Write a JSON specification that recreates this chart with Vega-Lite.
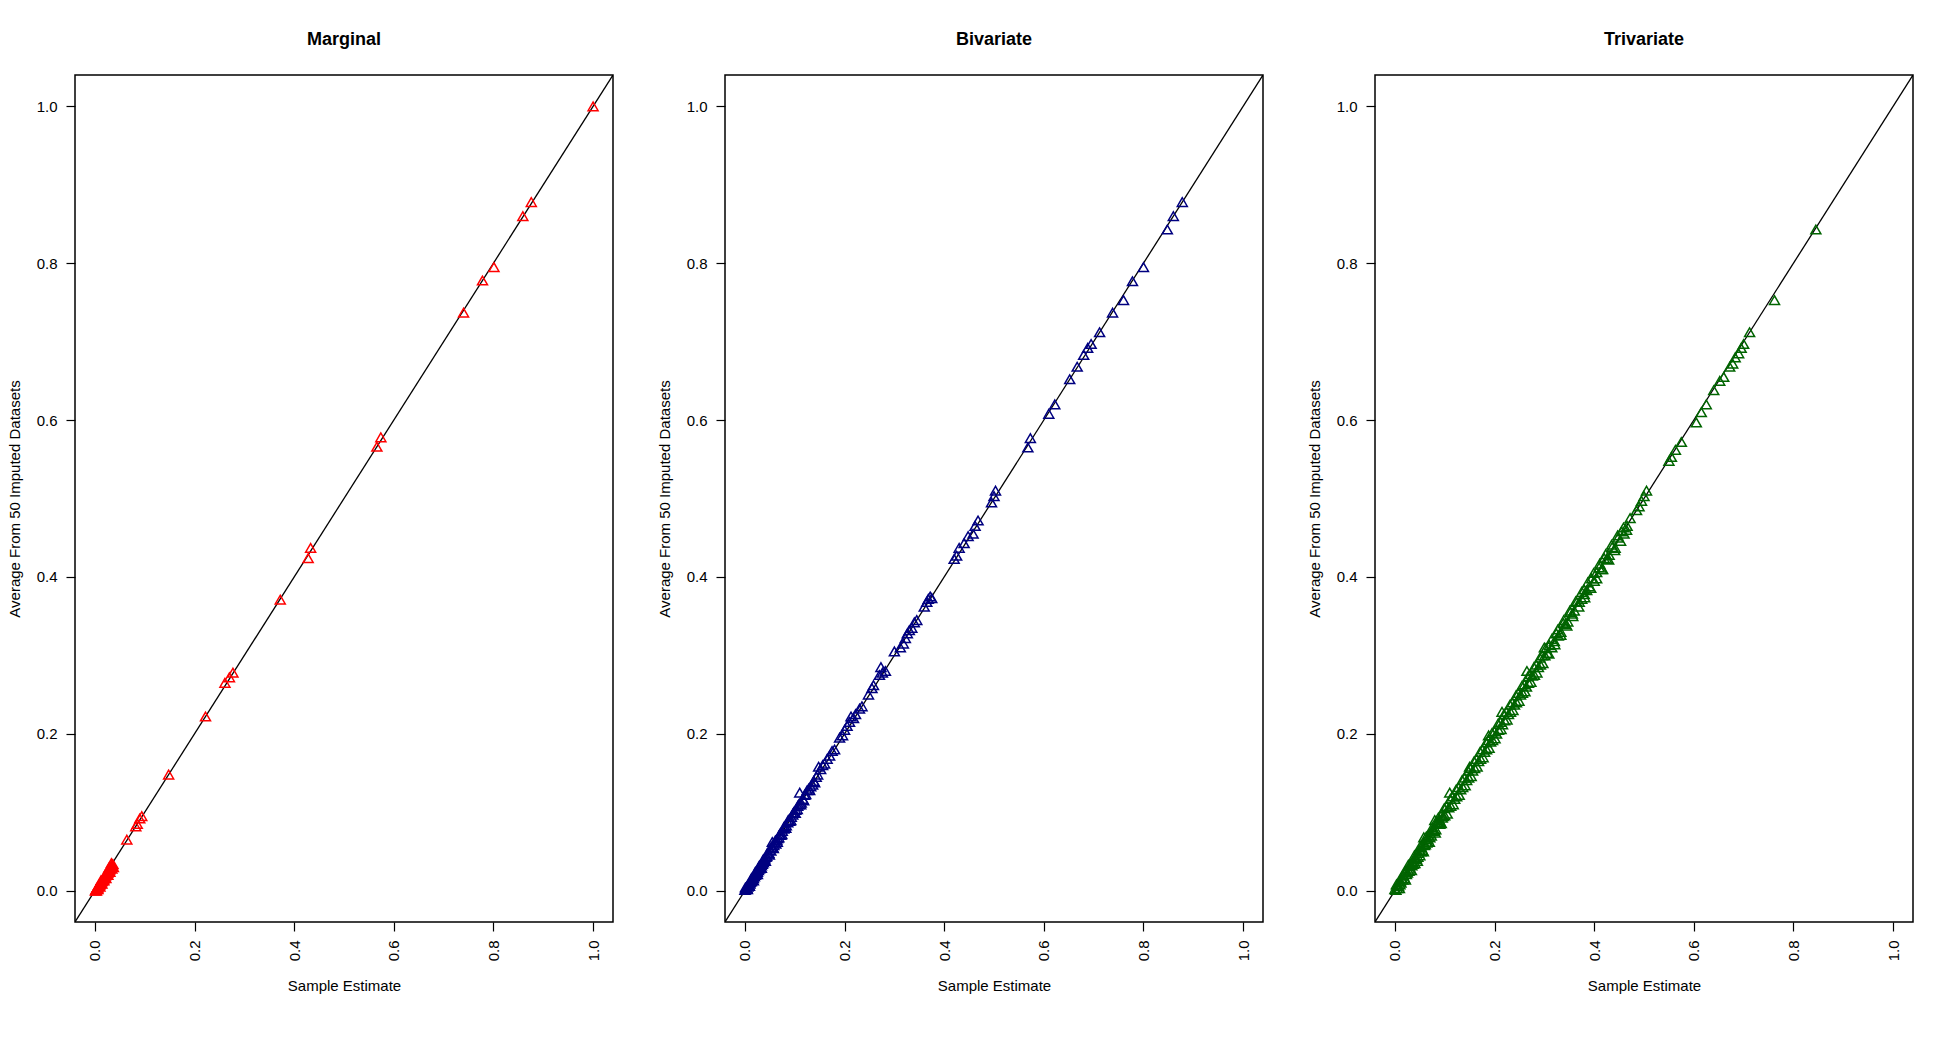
{
  "$schema": "https://vega.github.io/schema/vega-lite/v6.json",
  "background": "white",
  "padding": {"left": 6, "top": 30, "right": 5, "bottom": 5},
  "bounds": "flush",
  "spacing": 112,
  "config": {
    "font": "Liberation Sans",
    "view": {"stroke": "black", "strokeWidth": 1.5},
    "axis": {
      "grid": false,
      "domain": false,
      "tickColor": "black",
      "tickWidth": 1.2,
      "tickSize": 9,
      "labelPadding": 9,
      "labelFont": "Liberation Sans",
      "labelFontSize": 15,
      "labelColor": "black",
      "titleFont": "Liberation Sans",
      "titleFontSize": 15,
      "titleFontWeight": "normal",
      "titleColor": "black"
    },
    "axisX": {"labelAngle": -90, "titlePadding": 18},
    "axisY": {"titlePadding": 14},
    "title": {"font": "Liberation Sans", "fontSize": 18, "fontWeight": "bold", "color": "black", "offset": 26}
  },
  "datasets": {
    "diag": [{"x": -0.04, "y": -0.04}, {"x": 1.04, "y": 1.04}],
    "marginal": [
      {"x":1.000,"y":1.000},{"x":0.876,"y":0.878},{"x":0.859,"y":0.860},{"x":0.801,"y":0.795},{"x":0.778,"y":0.778},
      {"x":0.740,"y":0.737},{"x":0.574,"y":0.578},{"x":0.566,"y":0.566},{"x":0.433,"y":0.437},{"x":0.428,"y":0.424},
      {"x":0.372,"y":0.371},{"x":0.277,"y":0.278},{"x":0.270,"y":0.272},{"x":0.261,"y":0.265},{"x":0.222,"y":0.222},
      {"x":0.148,"y":0.148},{"x":0.094,"y":0.095},{"x":0.090,"y":0.092},{"x":0.085,"y":0.085},{"x":0.082,"y":0.082},
      {"x":0.064,"y":0.065},
      {"x":0.001,"y":0.000},{"x":0.002,"y":0.001},{"x":0.003,"y":0.002},{"x":0.004,"y":0.003},{"x":0.005,"y":0.004},
      {"x":0.006,"y":0.004},{"x":0.007,"y":0.006},{"x":0.008,"y":0.006},{"x":0.009,"y":0.008},{"x":0.010,"y":0.008},
      {"x":0.011,"y":0.009},{"x":0.012,"y":0.010},{"x":0.013,"y":0.012},{"x":0.014,"y":0.012},{"x":0.015,"y":0.013},
      {"x":0.016,"y":0.014},{"x":0.017,"y":0.015},{"x":0.018,"y":0.016},{"x":0.019,"y":0.018},{"x":0.020,"y":0.017},
      {"x":0.021,"y":0.019},{"x":0.022,"y":0.020},{"x":0.023,"y":0.021},{"x":0.024,"y":0.022},{"x":0.025,"y":0.024},
      {"x":0.026,"y":0.023},{"x":0.027,"y":0.025},{"x":0.028,"y":0.026},{"x":0.029,"y":0.028},{"x":0.030,"y":0.027},
      {"x":0.031,"y":0.029},{"x":0.032,"y":0.030},{"x":0.033,"y":0.032},{"x":0.034,"y":0.031},{"x":0.035,"y":0.033},
      {"x":0.036,"y":0.034},{"x":0.034,"y":0.028},{"x":0.030,"y":0.024},{"x":0.026,"y":0.020},{"x":0.022,"y":0.016},
      {"x":0.018,"y":0.013},{"x":0.014,"y":0.009},{"x":0.010,"y":0.005},{"x":0.006,"y":0.002},{"x":0.003,"y":0.000},
      {"x":0.020,"y":0.020},{"x":0.028,"y":0.029},{"x":0.033,"y":0.035},{"x":0.012,"y":0.013},{"x":0.037,"y":0.030}
    ],
    "bivariate": [
      {"x":0.000,"y":0.001},{"x":0.002,"y":0.002},{"x":0.003,"y":0.004},{"x":0.004,"y":0.003},{"x":0.005,"y":0.006},
      {"x":0.006,"y":0.005},{"x":0.007,"y":0.008},{"x":0.008,"y":0.007},{"x":0.009,"y":0.010},{"x":0.010,"y":0.009},
      {"x":0.011,"y":0.011},{"x":0.012,"y":0.013},{"x":0.013,"y":0.012},{"x":0.014,"y":0.015},{"x":0.015,"y":0.014},
      {"x":0.016,"y":0.017},{"x":0.017,"y":0.016},{"x":0.018,"y":0.019},{"x":0.019,"y":0.018},{"x":0.020,"y":0.021},
      {"x":0.021,"y":0.020},{"x":0.022,"y":0.023},{"x":0.023,"y":0.022},{"x":0.024,"y":0.025},{"x":0.025,"y":0.024},
      {"x":0.026,"y":0.027},{"x":0.027,"y":0.026},{"x":0.028,"y":0.029},{"x":0.029,"y":0.028},{"x":0.030,"y":0.031},
      {"x":0.031,"y":0.030},{"x":0.032,"y":0.033},{"x":0.033,"y":0.032},{"x":0.034,"y":0.035},{"x":0.035,"y":0.034},
      {"x":0.036,"y":0.037},{"x":0.037,"y":0.036},{"x":0.038,"y":0.039},{"x":0.039,"y":0.038},{"x":0.040,"y":0.041},
      {"x":0.042,"y":0.043},{"x":0.044,"y":0.044},{"x":0.046,"y":0.047},{"x":0.048,"y":0.048},{"x":0.050,"y":0.052},
      {"x":0.052,"y":0.051},{"x":0.055,"y":0.062},{"x":0.056,"y":0.055},{"x":0.058,"y":0.058},{"x":0.060,"y":0.061},
      {"x":0.062,"y":0.060},{"x":0.064,"y":0.065},{"x":0.066,"y":0.067},{"x":0.068,"y":0.068},{"x":0.070,"y":0.072},
      {"x":0.072,"y":0.071},{"x":0.075,"y":0.076},{"x":0.078,"y":0.079},{"x":0.080,"y":0.082},{"x":0.083,"y":0.083},
      {"x":0.086,"y":0.087},{"x":0.088,"y":0.090},{"x":0.090,"y":0.089},{"x":0.093,"y":0.094},{"x":0.096,"y":0.097},
      {"x":0.098,"y":0.100},{"x":0.102,"y":0.103},{"x":0.105,"y":0.104},{"x":0.108,"y":0.110},{"x":0.110,"y":0.125},
      {"x":0.113,"y":0.112},{"x":0.116,"y":0.117},{"x":0.118,"y":0.115},{"x":0.122,"y":0.123},{"x":0.125,"y":0.128},
      {"x":0.128,"y":0.130},{"x":0.132,"y":0.133},{"x":0.136,"y":0.135},{"x":0.140,"y":0.138},{"x":0.143,"y":0.145},
      {"x":0.146,"y":0.148},{"x":0.148,"y":0.158},{"x":0.152,"y":0.155},{"x":0.156,"y":0.160},{"x":0.160,"y":0.162},
      {"x":0.165,"y":0.168},{"x":0.170,"y":0.172},{"x":0.175,"y":0.178},{"x":0.180,"y":0.180},{"x":0.190,"y":0.195},
      {"x":0.196,"y":0.198},{"x":0.200,"y":0.205},{"x":0.205,"y":0.210},{"x":0.210,"y":0.215},{"x":0.213,"y":0.222},
      {"x":0.218,"y":0.220},{"x":0.222,"y":0.225},{"x":0.230,"y":0.232},{"x":0.235,"y":0.235},{"x":0.248,"y":0.250},
      {"x":0.255,"y":0.258},{"x":0.258,"y":0.262},{"x":0.270,"y":0.275},{"x":0.273,"y":0.285},{"x":0.276,"y":0.278},
      {"x":0.282,"y":0.280},{"x":0.300,"y":0.305},{"x":0.312,"y":0.310},{"x":0.318,"y":0.315},{"x":0.322,"y":0.322},
      {"x":0.326,"y":0.328},{"x":0.330,"y":0.332},{"x":0.335,"y":0.335},{"x":0.340,"y":0.342},{"x":0.345,"y":0.345},
      {"x":0.360,"y":0.362},{"x":0.365,"y":0.368},{"x":0.368,"y":0.372},{"x":0.372,"y":0.375},{"x":0.375,"y":0.373},
      {"x":0.420,"y":0.423},{"x":0.425,"y":0.427},{"x":0.430,"y":0.437},{"x":0.440,"y":0.443},{"x":0.448,"y":0.452},
      {"x":0.458,"y":0.455},{"x":0.462,"y":0.465},{"x":0.468,"y":0.472},{"x":0.495,"y":0.495},{"x":0.500,"y":0.503},
      {"x":0.503,"y":0.510},{"x":0.568,"y":0.565},{"x":0.573,"y":0.577},{"x":0.610,"y":0.608},{"x":0.622,"y":0.620},
      {"x":0.652,"y":0.652},{"x":0.667,"y":0.668},{"x":0.680,"y":0.683},{"x":0.688,"y":0.692},{"x":0.695,"y":0.697},
      {"x":0.712,"y":0.712},{"x":0.738,"y":0.737},{"x":0.760,"y":0.753},{"x":0.778,"y":0.777},{"x":0.800,"y":0.795},
      {"x":0.848,"y":0.843},{"x":0.860,"y":0.860},{"x":0.878,"y":0.878},
      {"x":0.001,"y":0.004},{"x":0.005,"y":0.002},{"x":0.009,"y":0.006},{"x":0.013,"y":0.016},{"x":0.017,"y":0.013},
      {"x":0.021,"y":0.024},{"x":0.025,"y":0.021},{"x":0.029,"y":0.032},{"x":0.033,"y":0.029},{"x":0.037,"y":0.040},
      {"x":0.041,"y":0.038},{"x":0.045,"y":0.048},{"x":0.049,"y":0.046},{"x":0.053,"y":0.056},{"x":0.057,"y":0.054},
      {"x":0.061,"y":0.064},{"x":0.065,"y":0.062},{"x":0.069,"y":0.071},{"x":0.074,"y":0.072},{"x":0.078,"y":0.081},
      {"x":0.082,"y":0.080},{"x":0.087,"y":0.090},{"x":0.092,"y":0.090},{"x":0.097,"y":0.099},{"x":0.101,"y":0.099},
      {"x":0.106,"y":0.108},{"x":0.112,"y":0.110},{"x":0.120,"y":0.122},{"x":0.130,"y":0.128},{"x":0.138,"y":0.140}
    ],
    "trivariate": [
      {"x":0.845,"y":0.843},{"x":0.762,"y":0.753},{"x":0.712,"y":0.712},{"x":0.700,"y":0.697},{"x":0.695,"y":0.692},
      {"x":0.690,"y":0.685},{"x":0.683,"y":0.680},{"x":0.678,"y":0.672},{"x":0.672,"y":0.668},{"x":0.660,"y":0.655},
      {"x":0.652,"y":0.650},{"x":0.640,"y":0.638},{"x":0.625,"y":0.620},{"x":0.615,"y":0.610},{"x":0.605,"y":0.597},
      {"x":0.575,"y":0.572},{"x":0.563,"y":0.562},{"x":0.555,"y":0.553},{"x":0.550,"y":0.548},{"x":0.505,"y":0.510},
      {"x":0.500,"y":0.503},{"x":0.495,"y":0.497},{"x":0.490,"y":0.490},{"x":0.485,"y":0.485},
      {"x":0.472,"y":0.475},{"x":0.466,"y":0.465},{"x":0.460,"y":0.455},{"x":0.455,"y":0.458},{"x":0.448,"y":0.450},
      {"x":0.442,"y":0.437},{"x":0.436,"y":0.438},{"x":0.430,"y":0.428},{"x":0.425,"y":0.423},{"x":0.420,"y":0.424},
      {"x":0.415,"y":0.410},{"x":0.410,"y":0.412},{"x":0.405,"y":0.406},{"x":0.400,"y":0.395},{"x":0.395,"y":0.398},
      {"x":0.390,"y":0.388},{"x":0.385,"y":0.383},{"x":0.380,"y":0.384},{"x":0.375,"y":0.372},{"x":0.370,"y":0.368},
      {"x":0.365,"y":0.368},{"x":0.360,"y":0.357},{"x":0.356,"y":0.353},{"x":0.352,"y":0.355},{"x":0.347,"y":0.343},
      {"x":0.342,"y":0.340},{"x":0.338,"y":0.341},{"x":0.333,"y":0.330},{"x":0.328,"y":0.325},{"x":0.324,"y":0.328},
      {"x":0.320,"y":0.318},{"x":0.315,"y":0.310},{"x":0.310,"y":0.313},{"x":0.306,"y":0.303},{"x":0.301,"y":0.300},
      {"x":0.296,"y":0.300},{"x":0.292,"y":0.288},{"x":0.288,"y":0.285},{"x":0.284,"y":0.288},{"x":0.280,"y":0.275},
      {"x":0.276,"y":0.274},{"x":0.272,"y":0.276},{"x":0.268,"y":0.265},{"x":0.264,"y":0.260},{"x":0.260,"y":0.263},
      {"x":0.256,"y":0.252},{"x":0.252,"y":0.250},{"x":0.248,"y":0.252},{"x":0.244,"y":0.240},{"x":0.240,"y":0.237},
      {"x":0.236,"y":0.240},{"x":0.232,"y":0.228},{"x":0.228,"y":0.225},{"x":0.224,"y":0.228},{"x":0.220,"y":0.217},
      {"x":0.216,"y":0.212},{"x":0.212,"y":0.215},{"x":0.208,"y":0.205},{"x":0.204,"y":0.200},{"x":0.200,"y":0.203},
      {"x":0.196,"y":0.192},{"x":0.192,"y":0.190},{"x":0.188,"y":0.192},{"x":0.184,"y":0.180},{"x":0.180,"y":0.177},
      {"x":0.176,"y":0.180},{"x":0.172,"y":0.168},{"x":0.168,"y":0.165},{"x":0.164,"y":0.168},{"x":0.160,"y":0.156},
      {"x":0.156,"y":0.153},{"x":0.152,"y":0.156},{"x":0.148,"y":0.144},{"x":0.144,"y":0.141},{"x":0.140,"y":0.144},
      {"x":0.136,"y":0.132},{"x":0.132,"y":0.129},{"x":0.128,"y":0.132},{"x":0.124,"y":0.120},{"x":0.120,"y":0.117},
      {"x":0.116,"y":0.120},{"x":0.112,"y":0.108},{"x":0.108,"y":0.106},{"x":0.104,"y":0.108},{"x":0.100,"y":0.096},
      {"x":0.097,"y":0.095},{"x":0.094,"y":0.097},{"x":0.091,"y":0.087},{"x":0.088,"y":0.086},{"x":0.085,"y":0.088},
      {"x":0.082,"y":0.078},{"x":0.079,"y":0.077},{"x":0.076,"y":0.079},{"x":0.073,"y":0.070},{"x":0.070,"y":0.068},
      {"x":0.067,"y":0.070},{"x":0.064,"y":0.061},{"x":0.061,"y":0.059},{"x":0.058,"y":0.061},{"x":0.055,"y":0.052},
      {"x":0.052,"y":0.050},{"x":0.049,"y":0.052},{"x":0.046,"y":0.043},{"x":0.043,"y":0.041},{"x":0.040,"y":0.043},
      {"x":0.037,"y":0.034},{"x":0.034,"y":0.032},{"x":0.031,"y":0.034},{"x":0.028,"y":0.025},{"x":0.025,"y":0.023},
      {"x":0.022,"y":0.025},{"x":0.019,"y":0.016},{"x":0.016,"y":0.014},{"x":0.013,"y":0.016},{"x":0.010,"y":0.008},
      {"x":0.007,"y":0.006},{"x":0.004,"y":0.006},{"x":0.002,"y":0.001},{"x":0.000,"y":0.002},
      {"x":0.215,"y":0.228},{"x":0.110,"y":0.125},{"x":0.058,"y":0.068},{"x":0.300,"y":0.310},{"x":0.188,"y":0.198},
      {"x":0.150,"y":0.158},{"x":0.380,"y":0.378},{"x":0.265,"y":0.280},{"x":0.040,"y":0.035},{"x":0.080,"y":0.090},
      {"x":0.020,"y":0.024},{"x":0.050,"y":0.045},{"x":0.030,"y":0.028},{"x":0.012,"y":0.010},{"x":0.066,"y":0.062},
      {"x":0.090,"y":0.085},
      {"x":0.003,"y":0.008},{"x":0.009,"y":0.003},{"x":0.015,"y":0.020},{"x":0.021,"y":0.014},{"x":0.027,"y":0.033},
      {"x":0.033,"y":0.026},{"x":0.039,"y":0.045},{"x":0.045,"y":0.038},{"x":0.051,"y":0.057},{"x":0.057,"y":0.050},
      {"x":0.063,"y":0.069},{"x":0.069,"y":0.062},{"x":0.075,"y":0.081},{"x":0.081,"y":0.074},{"x":0.087,"y":0.093},
      {"x":0.093,"y":0.086},{"x":0.099,"y":0.105},{"x":0.105,"y":0.098},{"x":0.111,"y":0.117},{"x":0.117,"y":0.110},
      {"x":0.123,"y":0.129},{"x":0.129,"y":0.122},{"x":0.135,"y":0.141},{"x":0.141,"y":0.134},{"x":0.147,"y":0.153},
      {"x":0.153,"y":0.146},{"x":0.159,"y":0.165},{"x":0.165,"y":0.158},{"x":0.171,"y":0.177},{"x":0.177,"y":0.170},
      {"x":0.183,"y":0.189},{"x":0.189,"y":0.182},{"x":0.195,"y":0.201},{"x":0.201,"y":0.194},{"x":0.207,"y":0.213},
      {"x":0.213,"y":0.206},{"x":0.219,"y":0.225},{"x":0.225,"y":0.218},{"x":0.231,"y":0.237},{"x":0.237,"y":0.230},
      {"x":0.243,"y":0.249},{"x":0.249,"y":0.242},{"x":0.255,"y":0.261},{"x":0.261,"y":0.254},{"x":0.267,"y":0.273},
      {"x":0.273,"y":0.266},{"x":0.279,"y":0.285},{"x":0.285,"y":0.278},{"x":0.291,"y":0.297},{"x":0.297,"y":0.290},
      {"x":0.303,"y":0.309},{"x":0.309,"y":0.302},{"x":0.315,"y":0.321},{"x":0.321,"y":0.314},{"x":0.327,"y":0.333},
      {"x":0.333,"y":0.326},{"x":0.339,"y":0.345},{"x":0.345,"y":0.338},{"x":0.351,"y":0.357},{"x":0.357,"y":0.350},
      {"x":0.363,"y":0.369},{"x":0.369,"y":0.362},{"x":0.375,"y":0.381},{"x":0.381,"y":0.374},{"x":0.387,"y":0.393},
      {"x":0.393,"y":0.386},{"x":0.399,"y":0.405},{"x":0.405,"y":0.398},{"x":0.411,"y":0.417},{"x":0.417,"y":0.410},
      {"x":0.423,"y":0.429},{"x":0.429,"y":0.422},{"x":0.435,"y":0.441},{"x":0.441,"y":0.434},{"x":0.447,"y":0.453},
      {"x":0.453,"y":0.446},{"x":0.459,"y":0.463},{"x":0.465,"y":0.460},
      {"x":0.005,"y":0.003},{"x":0.011,"y":0.012},{"x":0.017,"y":0.019},{"x":0.023,"y":0.021},{"x":0.029,"y":0.031},
      {"x":0.035,"y":0.036},{"x":0.041,"y":0.040},{"x":0.047,"y":0.048},{"x":0.053,"y":0.055},{"x":0.059,"y":0.058},
      {"x":0.065,"y":0.066},{"x":0.071,"y":0.073},{"x":0.077,"y":0.076},{"x":0.083,"y":0.085},{"x":0.089,"y":0.090},
      {"x":0.095,"y":0.093}
    ]
  },
  "hconcat": [
    {
      "title": "Marginal",
      "width": 538,
      "height": 847,
      "encoding": {
        "x": {"field": "x", "type": "quantitative", "title": "Sample Estimate",
              "scale": {"domain": [-0.04, 1.04], "nice": false, "zero": false},
              "axis": {"values": [0, 0.2, 0.4, 0.6, 0.8, 1], "format": ".1f"}},
        "y": {"field": "y", "type": "quantitative", "title": "Average From 50 Imputed Datasets",
              "scale": {"domain": [-0.04, 1.04], "nice": false, "zero": false},
              "axis": {"values": [0, 0.2, 0.4, 0.6, 0.8, 1], "format": ".1f"}}
      },
      "layer": [
        {"data": {"name": "diag"}, "mark": {"type": "line", "color": "black", "strokeWidth": 1.3, "clip": true}},
        {"data": {"name": "marginal"}, "mark": {"type": "point", "shape": "triangle-up", "filled": false, "color": "#ff0000", "strokeWidth": 1.5, "size": 100, "opacity": 1}}
      ]
    },
    {
      "title": "Bivariate",
      "width": 538,
      "height": 847,
      "encoding": {
        "x": {"field": "x", "type": "quantitative", "title": "Sample Estimate",
              "scale": {"domain": [-0.04, 1.04], "nice": false, "zero": false},
              "axis": {"values": [0, 0.2, 0.4, 0.6, 0.8, 1], "format": ".1f"}},
        "y": {"field": "y", "type": "quantitative", "title": "Average From 50 Imputed Datasets",
              "scale": {"domain": [-0.04, 1.04], "nice": false, "zero": false},
              "axis": {"values": [0, 0.2, 0.4, 0.6, 0.8, 1], "format": ".1f"}}
      },
      "layer": [
        {"data": {"name": "diag"}, "mark": {"type": "line", "color": "black", "strokeWidth": 1.3, "clip": true}},
        {"data": {"name": "bivariate"}, "mark": {"type": "point", "shape": "triangle-up", "filled": false, "color": "#000080", "strokeWidth": 1.5, "size": 100, "opacity": 1}}
      ]
    },
    {
      "title": "Trivariate",
      "width": 538,
      "height": 847,
      "encoding": {
        "x": {"field": "x", "type": "quantitative", "title": "Sample Estimate",
              "scale": {"domain": [-0.04, 1.04], "nice": false, "zero": false},
              "axis": {"values": [0, 0.2, 0.4, 0.6, 0.8, 1], "format": ".1f"}},
        "y": {"field": "y", "type": "quantitative", "title": "Average From 50 Imputed Datasets",
              "scale": {"domain": [-0.04, 1.04], "nice": false, "zero": false},
              "axis": {"values": [0, 0.2, 0.4, 0.6, 0.8, 1], "format": ".1f"}}
      },
      "layer": [
        {"data": {"name": "diag"}, "mark": {"type": "line", "color": "black", "strokeWidth": 1.3, "clip": true}},
        {"data": {"name": "trivariate"}, "mark": {"type": "point", "shape": "triangle-up", "filled": false, "color": "#006400", "strokeWidth": 1.5, "size": 100, "opacity": 1}}
      ]
    }
  ]
}
